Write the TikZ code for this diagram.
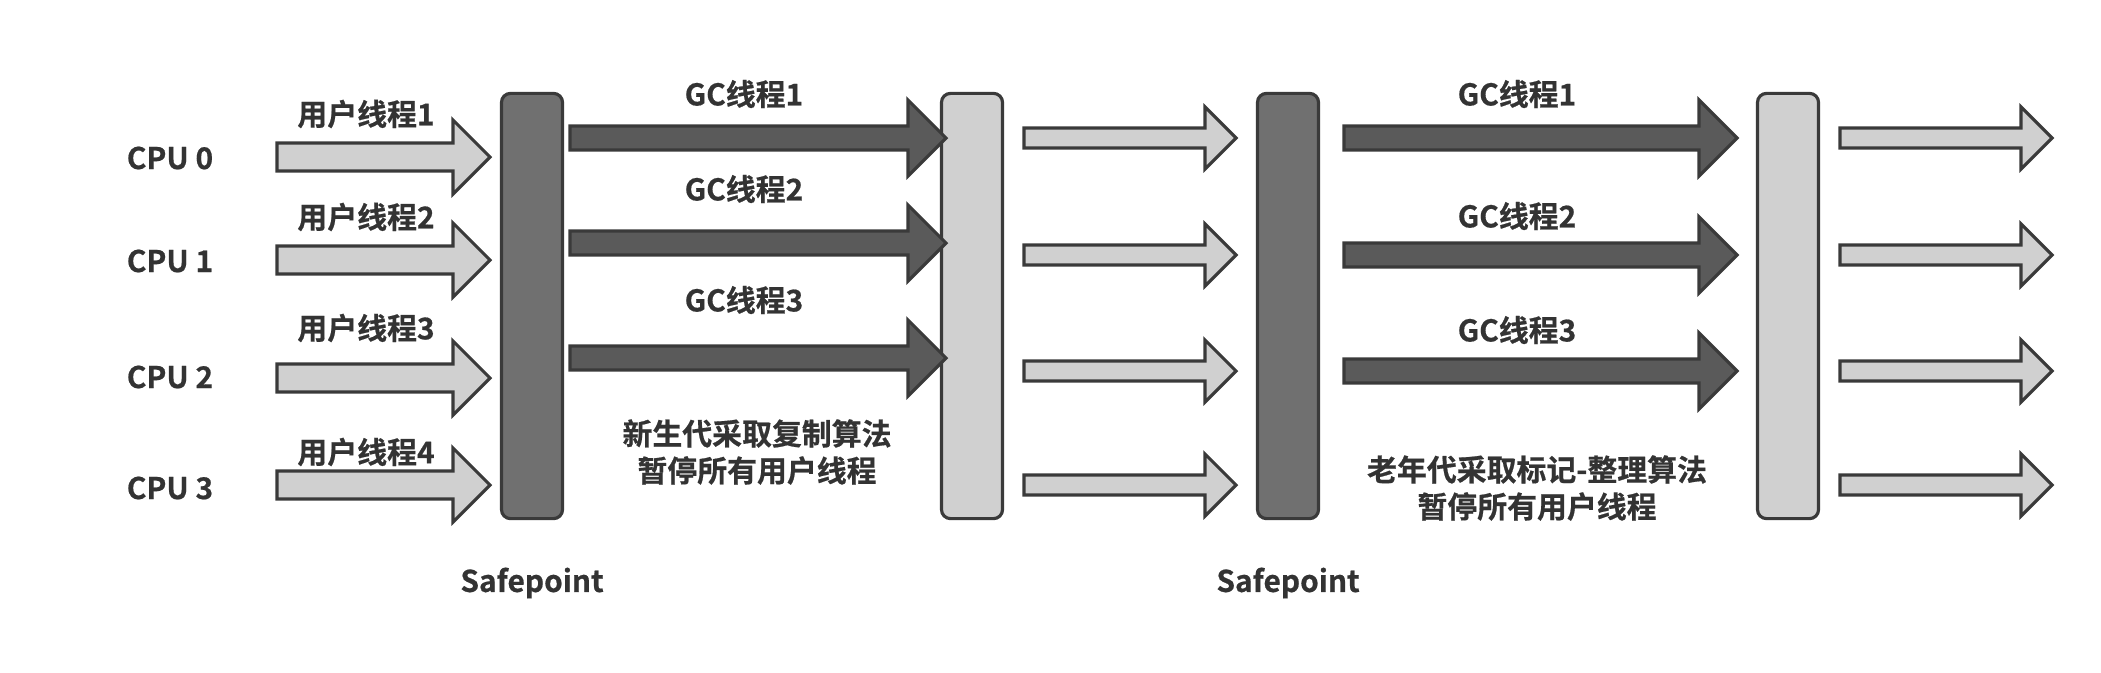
\documentclass[tikz,border=0pt]{standalone}
\usepackage{fontspec}
\usepackage{tikz}
\newfontfamily\cjk{Noto Sans CJK SC}[BoldFont={Noto Sans CJK SC Bold}, BoldFeatures={FakeBold=0.6}]
\definecolor{inkgray}{HTML}{333333}
\definecolor{linegray}{HTML}{3A3A3A}
\definecolor{lightfill}{HTML}{D0D0D0}
\definecolor{darkfill}{HTML}{5A5A5A}
\definecolor{barfill}{HTML}{707070}

\tikzset{
  lbl/.style={text=inkgray, font=\cjk\bfseries\fontsize{8.5}{10.5}\selectfont, inner sep=0pt, align=center},
  userarrow/.style={fill=lightfill, draw=linegray, line width=0.9pt},
  gcarrow/.style={fill=darkfill, draw=linegray, line width=0.9pt},
  bar/.style={draw=linegray, line width=0.9pt, rounded corners=0.09cm, minimum width=0.61cm, minimum height=4.25cm, inner sep=0pt},
  darkbar/.style={bar, fill=barfill},
  lightbar/.style={bar, fill=lightfill}
}

\begin{document}
\begin{tikzpicture}[x=0.01cm, y=-0.01cm]
  \useasboundingbox (0,0) rectangle (2101,672);
  \def\blockarrow#1#2#3#4#5#6{%
    \filldraw[#1] (#2,#4-#5) -- (#3-#6,#4-#5) -- (#3-#6,#4-#6) -- (#3,#4)
      -- (#3-#6,#4+#6) -- (#3-#6,#4+#5) -- (#2,#4+#5) -- cycle;}

  % safepoints and resume bars
  \node[darkbar] (sp1) at (532,306) {};
  \node[lightbar] (rs1) at (972,306) {};
  \node[darkbar] (sp2) at (1288,306) {};
  \node[lightbar] (rs2) at (1788,306) {};

  \node[lbl] (cpu0) at (170,158) {CPU 0};
  \node[lbl] (cpu1) at (170,261) {CPU 1};
  \node[lbl] (cpu2) at (170,377) {CPU 2};
  \node[lbl] (cpu3) at (170,488) {CPU 3};

  % user threads
  \node[lbl] (ut1) at (366,114) {用户线程1};
  \node[lbl] (ut2) at (366,217) {用户线程2};
  \node[lbl] (ut3) at (366,328) {用户线程3};
  \node[lbl] (ut4) at (366,452) {用户线程4};
  \blockarrow{userarrow}{277}{490}{157}{14}{37}
  \blockarrow{userarrow}{277}{490}{260}{14}{37}
  \blockarrow{userarrow}{277}{490}{378}{14}{37}
  \blockarrow{userarrow}{277}{490}{485}{14}{37}

  % young gen
  \node[lbl] (gca1) at (744,94) {GC线程1};
  \node[lbl] (gca2) at (744,189) {GC线程2};
  \node[lbl] (gca3) at (744,300) {GC线程3};
  \blockarrow{gcarrow}{570}{946}{138}{12}{38}
  \blockarrow{gcarrow}{570}{946}{243}{12}{38}
  \blockarrow{gcarrow}{570}{946}{358}{12}{38}
  \node[lbl] (young) at (757,452) {新生代采取复制算法\\暂停所有用户线程};

  \blockarrow{userarrow}{1024}{1236}{138}{10}{31}
  \blockarrow{userarrow}{1024}{1236}{255}{10}{31}
  \blockarrow{userarrow}{1024}{1236}{371}{10}{31}
  \blockarrow{userarrow}{1024}{1236}{485}{10}{31}

  % old gen
  \node[lbl] (gcb1) at (1517,94) {GC线程1};
  \node[lbl] (gcb2) at (1517,216) {GC线程2};
  \node[lbl] (gcb3) at (1517,330) {GC线程3};
  \blockarrow{gcarrow}{1344}{1737}{138}{12}{38}
  \blockarrow{gcarrow}{1344}{1737}{255}{12}{38}
  \blockarrow{gcarrow}{1344}{1737}{371}{12}{38}
  \node[lbl] (old) at (1537,488) {老年代采取标记-整理算法\\暂停所有用户线程};

  \blockarrow{userarrow}{1840}{2052}{138}{10}{31}
  \blockarrow{userarrow}{1840}{2052}{255}{10}{31}
  \blockarrow{userarrow}{1840}{2052}{371}{10}{31}
  \blockarrow{userarrow}{1840}{2052}{485}{10}{31}

  \node[lbl] (safe1) at (sp1 |- 0,583) {Safepoint};
  \node[lbl] (safe2) at (sp2 |- 0,583) {Safepoint};
\end{tikzpicture}
\end{document}
